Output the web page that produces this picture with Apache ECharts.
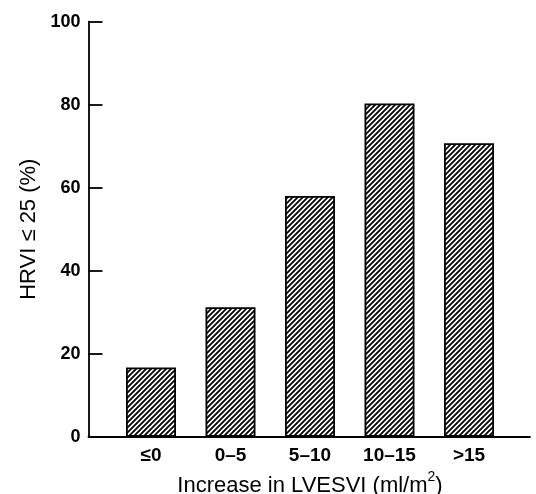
<!DOCTYPE html>
<html>
<head>
<meta charset="utf-8">
<script src="https://cdn.jsdelivr.net/npm/echarts@6/dist/echarts.min.js"></script>
<style>
html,body{margin:0;padding:0;background:#fff;}
#c{width:536px;height:494px;}
</style>
</head>
<body>
<div id="c"></div>
<script>
var categories = ['≤0', '0–5', '5–10', '10–15', '>15'];
var values = [16.7, 31.2, 58, 80.3, 70.7];
var yTicks = [0, 20, 40, 60, 80, 100];
var yTitle = 'HRVI ≤ 25 (%)';
var xTitleMain = 'Increase in LVESVI (ml/m';
var xTitleSup = '2';
var xTitleEnd = ')';

function hatch() {
  var s = 5;
  var cv = document.createElement('canvas');
  cv.width = s; cv.height = s;
  var ctx = cv.getContext('2d');
  ctx.fillStyle = '#fff';
  ctx.fillRect(0, 0, s, s);
  ctx.strokeStyle = '#000';
  ctx.lineWidth = 1.8;
  ctx.beginPath();
  ctx.moveTo(-1, s + 1); ctx.lineTo(s + 1, -1);
  ctx.moveTo(-1, 1); ctx.lineTo(1, -1);
  ctx.moveTo(s - 1, s + 1); ctx.lineTo(s + 1, s - 1);
  ctx.stroke();
  return cv;
}

var chart = echarts.init(document.getElementById('c'), null, {renderer: 'canvas'});
var font = '"Liberation Sans", Arial, sans-serif';
chart.setOption({
  animation: false,
  backgroundColor: '#fff',
  grid: [
    {left: 111.25, right: 27.25, top: 21.7, bottom: 57.3, containLabel: false, outerBoundsMode: 'none'},
    {left: 88.5, right: 6, top: 21.7, bottom: 57.3, containLabel: false, outerBoundsMode: 'none'}
  ],
  xAxis: [
    {
      type: 'category', gridIndex: 0, data: categories,
      axisLine: {show: false}, axisTick: {show: false},
      axisLabel: {color: '#000', fontFamily: font, fontWeight: 'bold', fontSize: 19, margin: 10},
      name: '{m|' + xTitleMain + '}{s|' + xTitleSup + '}{m|' + xTitleEnd + '}',
      nameLocation: 'middle', nameGap: 33,
      nameTextStyle: {
        color: '#000', fontFamily: font, fontSize: 22,
        rich: {
          m: {color: '#000', fontFamily: font, fontSize: 22, verticalAlign: 'bottom', lineHeight: 26},
          s: {color: '#000', fontFamily: font, fontSize: 14, verticalAlign: 'top', lineHeight: 14}
        }
      }
    },
    {
      type: 'value', gridIndex: 1, min: 0, max: 1,
      axisLine: {show: true, lineStyle: {color: '#000', width: 1.8}},
      axisTick: {show: false}, axisLabel: {show: false}, splitLine: {show: false}
    }
  ],
  yAxis: [
    {type: 'value', gridIndex: 0, min: 0, max: 100, show: false},
    {
      type: 'value', gridIndex: 1, min: yTicks[0], max: yTicks[yTicks.length - 1], interval: 20,
      axisLine: {show: true, lineStyle: {color: '#000', width: 1.8}},
      axisTick: {show: true, inside: true, length: 14, lineStyle: {color: '#000', width: 1.8}},
      axisLabel: {color: '#000', fontFamily: font, fontWeight: 'bold', fontSize: 18, margin: 8},
      splitLine: {show: false},
      name: yTitle, nameLocation: 'middle', nameGap: 44, nameRotate: 90,
      nameTextStyle: {color: '#000', fontFamily: font, fontSize: 22}
    }
  ],
  series: [{
    type: 'bar', xAxisIndex: 0, yAxisIndex: 0,
    data: values, barWidth: 50,
    itemStyle: {
      color: {image: hatch(), repeat: 'repeat'},
      borderColor: '#000', borderWidth: 1.8
    }
  }]
});
</script>
</body>
</html>
